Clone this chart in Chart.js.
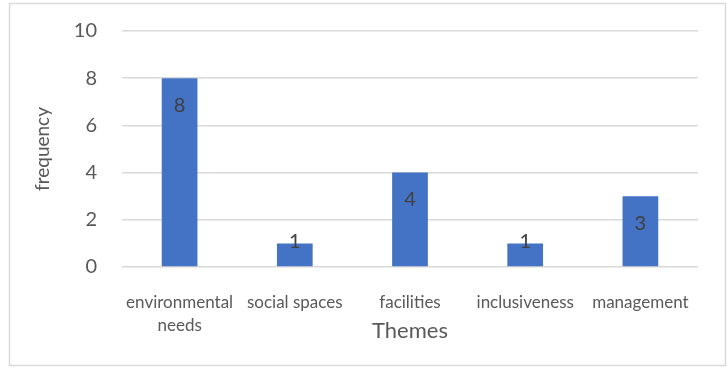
<!DOCTYPE html>
<html>
<head>
<meta charset="utf-8">
<script src="https://cdn.jsdelivr.net/npm/chart.js@4.4.1/dist/chart.umd.min.js"></script>
<style>
  html, body { margin: 0; padding: 0; background: #fff; }
  #wrap { position: relative; width: 727px; height: 368px; }
</style>
</head>
<body>
<div id="wrap"><canvas id="grafico" width="727" height="368"></canvas></div>
<script>
const temas = [['environmental', 'needs'], 'social spaces', 'facilities', 'inclusiveness', 'management'];
const frequencias = [8, 1, 4, 1, 3];
const marcasY = [0, 2, 4, 6, 8, 10];

const fonte = 'Lato, "Open Sans", sans-serif';

// moldura cinza em volta do gráfico inteiro
const moldura = {
  id: 'moldura',
  beforeDraw(chart) {
    const c = chart.ctx;
    c.save();
    c.strokeStyle = '#d9d9d9';
    c.lineWidth = 1.5;
    c.strokeRect(9.5, 3.5, 716, 362);
    c.restore();
  }
};

// rótulos de valor dentro do topo de cada barra
const rotulos = {
  id: 'rotulos',
  afterDatasetsDraw(chart) {
    const c = chart.ctx;
    const meta = chart.getDatasetMeta(0);
    c.save();
    c.font = '20px ' + fonte;
    c.fillStyle = '#404040';
    c.textAlign = 'center';
    c.textBaseline = 'middle';
    meta.data.forEach((bar, i) => {
      const y = Math.min(bar.y + 27, bar.base - 25);
      c.fillText(String(frequencias[i]), bar.x, y);
    });
    c.restore();
  }
};

new Chart(document.getElementById('grafico').getContext('2d'), {
  type: 'bar',
  data: {
    labels: temas,
    datasets: [{
      label: 'frequency',
      data: frequencias,
      backgroundColor: '#4472c4',
      categoryPercentage: 0.31,
      barPercentage: 1
    }]
  },
  options: {
    responsive: false,
    animation: false,
    layout: { padding: { left: 0, top: 31, right: 29, bottom: 0 } },
    plugins: { legend: { display: false }, tooltip: { enabled: false } },
    scales: {
      y: {
        min: 0,
        max: 10,
        afterFit(s) { s.width = 122; s.paddingTop = 0; s.paddingBottom = 0; },
        afterBuildTicks(s) { s.ticks = marcasY.map(v => ({ value: v })); },
        border: { display: false },
        grid: { color: '#d9d9d9', lineWidth: 1.5, drawTicks: false },
        ticks: { padding: 25, color: '#595959', font: { family: fonte, size: 20 } },
        title: {
          display: true,
          text: 'frequency',
          color: '#595959',
          font: { family: fonte, size: 19 },
          padding: { top: 31, bottom: 0 }
        }
      },
      x: {
        afterFit(s) { s.height = 101; },
        border: { display: false },
        grid: { display: false },
        ticks: {
          padding: 16,
          color: '#595959',
          maxRotation: 0,
          autoSkip: false,
          font: { family: fonte, size: 17, lineHeight: 1.35 }
        },
        title: {
          display: true,
          text: 'Themes',
          color: '#595959',
          font: { family: fonte, size: 22 },
          padding: { top: 0, bottom: 24 }
        }
      }
    }
  },
  plugins: [moldura, rotulos]
});
</script>
</body>
</html>
